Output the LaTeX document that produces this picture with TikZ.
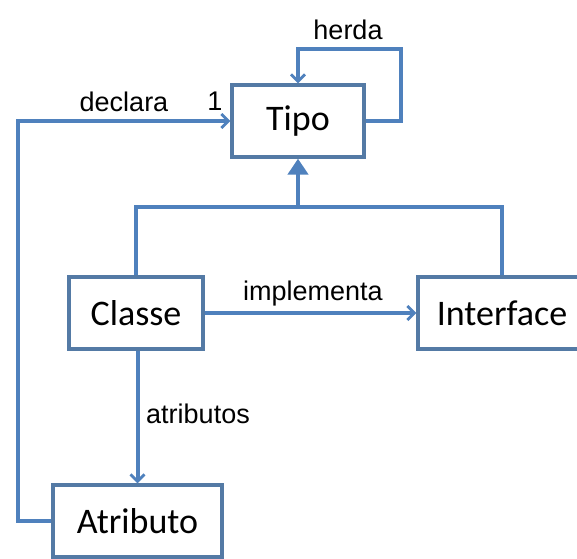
\documentclass[tikz,border=0pt]{standalone}
\usepackage{fontspec}
\setmainfont{Liberation Sans}
\newfontfamily\caixafont{Carlito}
\usetikzlibrary{arrows.meta}
\definecolor{L}{RGB}{79, 129, 189}
\definecolor{C}{RGB}{84, 122, 165}

\tikzset{
  caixa/.style={draw=C, line width=3.2pt, fill=white, minimum height=72pt,
    inner sep=0pt, font=\caixafont\fontsize{36}{42}\selectfont},
  linha/.style={draw=L, line width=4pt},
  seta/.style={linha, -{Straight Barb[length=7pt,width=14pt,line width=2.8pt]}},
  rotulo/.style={font=\fontsize{27}{31}\selectfont, inner sep=0pt}
}

\begin{document}
\begin{tikzpicture}[x=1pt, y=-1pt]
    \useasboundingbox (0,0) rectangle (577,558);

    %Caixas
    \node[caixa, minimum width=132pt] (tipo) at (298,121) {Tipo};
    \node[caixa, minimum width=134pt] (classe) at (136,313) {Classe};
    \node[caixa, minimum width=168pt] (interface) at (502,313) {Interface};
    \node[caixa, minimum width=169pt] (atributo) at (137.5,521) {Atributo};

    %Pontos de dobra
    \coordinate (herdaCanto) at (401,49);
    \coordinate (declaraCanto) at (18,521);
    \coordinate (juncao) at (298,207);

    %Heranca de Tipo para ele mesmo
    \draw[seta] (tipo.east) -| (herdaCanto) -| (tipo.north);
    \node[rotulo] (herda) at (348,30) {herda};

    %Atributo declara Tipo
    \draw[seta] (atributo.west) -- (declaraCanto) |- (tipo.west);
    \node[rotulo] (declara) at (124,102) {declara};
    \node[rotulo] (um) at (215,101) {1};

    %Classe e Interface herdam de Tipo
    \draw[linha] (classe.north) |- (juncao) -| (interface.north);
    \draw[linha, -{Triangle[length=16pt,width=20pt]}] (juncao) -- (tipo.south);

    %Classe implementa Interface
    \draw[seta] (classe.east) -- (interface.west);
    \node[rotulo] (implementa) at (313,294) {implementa};

    %Classe tem atributos
    \draw[seta] (classe.south -| atributo.north) -- (atributo.north);
    \node[rotulo] (atributos) at (198,414) {atributos};
\end{tikzpicture}
\end{document}
